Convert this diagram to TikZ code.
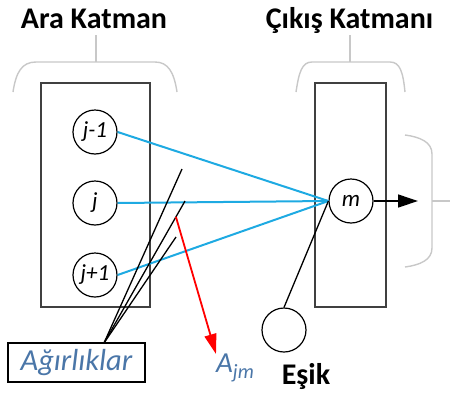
\documentclass[tikz,border=0pt]{standalone}
\usepackage{fontspec}
\setmainfont{Carlito}
\usetikzlibrary{arrows.meta,calc}
\definecolor{linkblue}{RGB}{30,170,226}
\definecolor{bracegray}{RGB}{200,200,200}
\definecolor{boxgray}{RGB}{64,64,64}
\definecolor{labelblue}{RGB}{74,118,168}
\tikzset{
  layerbox/.style={draw=boxgray, line width=1.5pt},
  neuron/.style={circle, draw=black, line width=1.2pt, minimum size=44pt, inner sep=0pt,
    font=\fontsize{23}{26}\selectfont\itshape},
  title/.style={anchor=base, inner sep=0pt, font=\fontsize{30}{34}\selectfont\bfseries},
  brace/.style={draw=bracegray, line width=1.4pt},
  link/.style={draw=linkblue, line width=2pt},
  weight/.style={draw=black, line width=1.3pt},
}
\begin{document}
\begin{tikzpicture}[x=1pt, y=-1pt]
\useasboundingbox (0,0) rectangle (450,394);

% layer titles and their braces
\node[title] (tara) at (94,28) {Ara Katman};
\node[title] (tcik) at (349.5,28) {Çıkış Katmanı};
\draw[brace] (96,35) -- (96,62);
\draw[brace] (13,92) .. controls (16,72) and (22,62) .. (36,62) -- (155,62)
  .. controls (168,62) and (174,72) .. (177,92);
\draw[brace] (350,35) -- (350,62);
\draw[brace] (296,92) .. controls (299,72) and (302,62) .. (312,62) -- (390,62)
  .. controls (400,62) and (403,72) .. (405,92);

% output brace
\draw[brace] (405,135) .. controls (420,137) and (432,142) .. (432,154) -- (432,248)
  .. controls (432,260) and (420,265) .. (405,267);
\draw[brace] (432,201) -- (450,201);

% layer boxes
\draw[layerbox] (41,83) rectangle (150,307);
\draw[layerbox] (315,83) rectangle (386,307);

% neurons
\node[neuron] (jm1) at (95,132) {j-1};
\node[neuron] (j)   at (95,203) {j};
\node[neuron] (jp1) at (95,275) {j+1};
\node[neuron] (m)   at (351,201) {m};
\node[neuron] (esik) at (284,330) {};
\node[title] (tesik) at (306,384) {Eşik};

% connections to the output neuron
\draw[link] (jm1.east) -- (m.west);
\draw[link] (j.east) -- (m.west);
\draw[link] (jp1.east) -- (m.west);
\draw[weight] (esik.north) -- (m.west);
\draw[weight, -{Triangle[length=20pt,width=13pt]}] (m.east) -- (418,201) coordinate (out);

% weights label and its pointers
\node[draw=black, line width=1.3pt, minimum width=137pt, minimum height=39pt, inner sep=0pt,
  text=labelblue, font=\fontsize{30.5}{34}\selectfont\itshape] (agr) at (76.5,362.5) {Ağırlıklar};
\coordinate (wk) at (104,343);
\coordinate (w1) at (182,169);
\coordinate (w2) at (185,201);
\coordinate (w3) at (176,237);
\draw[weight] (wk) -- (w1);
\draw[weight] (wk) -- (w2);
\draw[weight] (wk) -- (w3);

% single weight A_jm
\coordinate (r0) at ($(wk)!0.888!(w2)$);
\node[anchor=north west, inner sep=0pt, text=labelblue, font=\fontsize{29}{32}\selectfont\itshape]
  (ajm) at (216,354) {A\textsubscript{jm}};
\draw[draw=red, line width=1.8pt, -{Triangle[length=20pt,width=12pt]}] (r0) -- (ajm.north west);
\end{tikzpicture}
\end{document}
